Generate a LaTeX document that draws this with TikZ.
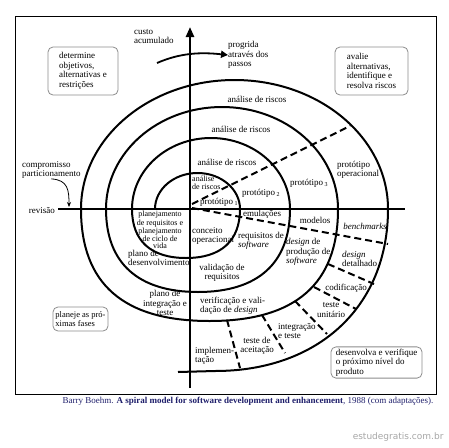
\documentclass[tikz,border=0pt]{standalone}
\usepackage{fontspec}
\setmainfont{Liberation Serif}
\newfontfamily\wmfont{DejaVu Sans}
\usepackage{tikz}
\usetikzlibrary{arrows.meta, positioning}
\definecolor{navy}{rgb}{0.12,0.12,0.42}

\begin{document}
\begin{tikzpicture}[x=1pt, y=-1pt,
    font=\fontsize{9}{9.5}\selectfont,
    box/.style={draw=black!45, line width=0.8pt, rounded corners=5pt, align=left, inner sep=2pt},
    lbl/.style={inner sep=0pt, align=center},
    spiral/.style={line width=2pt},
    cut/.style={line width=2pt, dash pattern=on 7pt off 4pt}]
    \useasboundingbox (0,0) rectangle (449,447);
    % frame and axes
    \draw[line width=0.9pt] (15,16) rectangle (436,394);
    \draw[line width=2.4pt] (58,209) -- (405,209);
    \draw[line width=2.4pt, -{Triangle[length=10pt,width=8pt]}] (190,388) -- (190,27);
    % spiral
    \draw[spiral] (155,209)
        arc[start angle=180, end angle=0, x radius=42.5pt, y radius=36pt]
        .. controls (240,241) and (221,258) .. (186,258)
        .. controls (151,258) and (132,241) .. (132,209)
        arc[start angle=180, end angle=0, x radius=79pt, y radius=71pt]
        .. controls (290,263) and (258,292) .. (198,292)
        .. controls (138,292) and (106,263) .. (106,209)
        arc[start angle=180, end angle=0, x radius=116pt, y radius=102pt]
        .. controls (338,284) and (295.5,321) .. (209.5,321)
        .. controls (123.5,321) and (81,284) .. (81,209)
        arc[start angle=180, end angle=0, x radius=153.5pt, y radius=129pt]
        .. controls (388,306) and (319,371) .. (215,371) -- (178,372);
    % dashed cuts
    \draw[cut] (192,204) -- (350,126);
    \draw[cut] (192,208) -- (388,244);
    \draw[cut] (328,264) -- (374,284);
    \draw[cut] (314,287) -- (356,309);
    \draw[cut] (295,301) -- (327,334);
    \draw[cut] (262,315) -- (285,353);
    \draw[cut] (227,320) -- (240,368);

    % quadrant boxes
    \node[box, minimum width=70pt, minimum height=48pt] (objet) at (83,71) {determine\\objetivos,\\alternativas e\\restrições};
    \node[box, minimum width=73pt, minimum height=48pt] (riscos) at (371.5,71) {avalie\\alternativas,\\identifique e\\resolva riscos};
    \node[box, minimum width=55pt, minimum height=24pt, font=\fontsize{8.5}{9.5}\selectfont] (fases) at (80.5,319) {planeje as pró-\\ximas fases};
    \node[box, minimum width=91pt, minimum height=29pt] (produto) at (376.5,362.5) {desenvolva e verifique\\o próximo nível do\\produto};

    % axis labels
    \node[lbl, align=left, anchor=north west] (custo) at (134,29) {custo\\acumulado};
    \node[lbl, align=left, anchor=west] (prog) at (228,55) {progrida\\através dos\\passos};
    \coordinate (cstart) at (157,63);
    \draw[line width=1.8pt, -{Triangle[length=7pt,width=7pt]}] (cstart) .. controls (180,53) and (200,52) .. (prog.west);
    \node[lbl, align=left, anchor=west] (comp) at (22,170) {compromisso\\particionamento};
    \node[lbl, anchor=east] (rev) at (55,211) {revisão};
    \coordinate (revpt) at (69,207);
    \draw[line width=0.8pt, -{Stealth[length=5pt,width=4pt]}] (comp.south) .. controls (68,180) and (69,190) .. (revpt);

    % upper half
    \node[lbl] (ar4) at (257,99) {análise de riscos};
    \node[lbl] (ar3) at (241,129) {análise de riscos};
    \node[lbl] (ar2) at (227,162) {análise de riscos};
    \node[lbl, align=left, anchor=west, font=\fontsize{8}{7.5}\selectfont] (ar1) at (192,183) {análise\\de riscos};
    \node[lbl] (p1) at (219,202) {protótipo\,\textsubscript{1}};
    \node[lbl] (p2) at (261,193) {protótipo\,\textsubscript{2}};
    \node[lbl] (p3) at (309,183) {protótipo\,\textsubscript{3}};
    \node[lbl, align=left, anchor=west] (pop) at (337,170) {protótipo\\operacional};

    % lower half
    \node[lbl] (emul) at (262,214) {emulações};
    \node[lbl] (model) at (315,220) {modelos};
    \node[lbl] (bench) at (365,226) {\textit{benchmarks}};
    \node[lbl, align=left, anchor=west] (req) at (238,241) {requisitos de\\\textit{software}};
    \node[lbl, align=left, anchor=west] (dprod) at (286,252) {\textit{design} de\\produção de\\\textit{software}};
    \node[lbl, align=left, anchor=west] (ddet) at (342,259) {\textit{design}\\detalhado};
    \node[lbl] (codif) at (346,288) {codificação};
    \node[lbl] (tunit) at (331,310) {teste\\unitário};
    \node[lbl, align=left, anchor=west] (integ) at (278,331) {integração\\e teste};
    \node[lbl] (aceit) at (257,346) {teste de\\aceitação};
    \node[lbl, align=left, anchor=west] (impl) at (195,356) {implemen-\\tação};
    \node[lbl, align=left, anchor=west] (vvd) at (200,306) {verificação e vali-\\dação de \textit{design}};
    \node[lbl] (vreq) at (222,273) {validação de\\requisitos};
    \node[lbl, align=left, anchor=west] (conc) at (192,236) {conceito\\operacional};
    \node[lbl, font=\fontsize{8}{7}\selectfont] (plreq) at (160,230) {planejamento\\de requisitos e\\planejamento\\de ciclo de\\vida};
    \node[lbl, align=left, anchor=west] (pldes) at (128,258) {plano de\\desenvolvimento};
    \node[lbl] (plint) at (165,303) {plano de\\integração e\\teste};

    % source
    \node[navy, font=\fontsize{9}{10}\selectfont] (cap) at (248,401) {Barry Boehm. \textbf{A spiral model for software development and enhancement}, 1988 (com adaptações).};
    \node[gray!70, font=\wmfont\fontsize{9}{10}\selectfont, anchor=east] (wm) at (447,437) {estudegratis.com.br};
\end{tikzpicture}
\end{document}
